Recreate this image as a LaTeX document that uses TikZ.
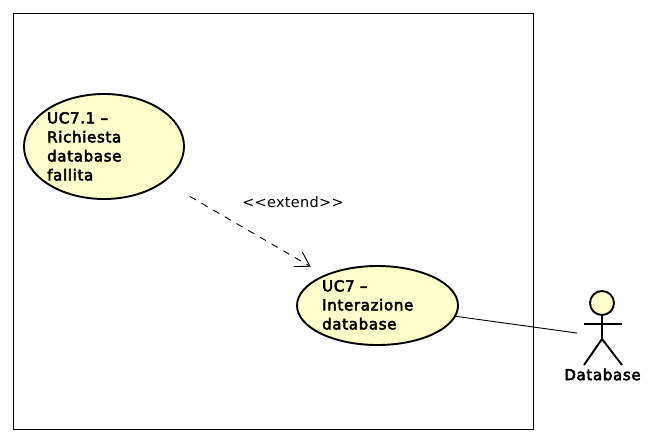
\documentclass[tikz,border=0pt]{standalone}
\usepackage{fontspec}
\setmainfont{DejaVu Sans}
\newfontfamily\spacedfont[LetterSpace=2]{DejaVu Sans}
\newfontfamily\heavyfont[FakeBold=3.5,LetterSpace=4.5]{DejaVu Sans}
\usetikzlibrary{shapes.geometric,arrows.meta}
\tikzset{
  x=1pt,y=-1pt,
  usecase/.style={draw=black,fill=ucfill,line width=1.9pt,ellipse,inner sep=0pt},
  uclabel/.style={anchor=north west,align=left,inner sep=0pt,font=\heavyfont\fontsize{15}{19}\selectfont},
  limb/.style={draw=black,line width=1.9pt},
  assoc/.style={draw=black,line width=0.9pt},
  ext/.style={draw=black,line width=0.9pt,dash pattern=on 7pt off 6.5pt,-{Straight Barb[length=14pt,width=17pt,line width=.9pt]}},
}
\definecolor{ucfill}{HTML}{FFFFCC}
\begin{document}
\begin{tikzpicture}
\useasboundingbox (0,0) rectangle (654,442);
\node[draw=black,line width=1pt,minimum width=520pt,minimum height=416pt,inner sep=0pt] (sys) at (273.5,221.5) {};
\node[usecase,minimum width=160pt,minimum height=105pt] (uc71) at (104,146.5) {};
\node[usecase,minimum width=161pt,minimum height=79pt] (uc7) at (377.5,305.5) {};
\node[uclabel] (t71) at (47,112) {UC7.1 –\\Richiesta\\database\\fallita};
\node[uclabel] (t7) at (322,280) {UC7 –\\Interazione\\database};
\node[font=\spacedfont\fontsize{14.5}{16}\selectfont,inner sep=0pt] (extl) at (293,202.5) {<{}<extend>{}>};
% actor
\node[circle,draw=black,fill=ucfill,line width=1.9pt,minimum size=24pt,inner sep=0pt] (head) at (602,303) {};
\coordinate (neck) at (602,339);
\coordinate (armL) at (584,324);
\coordinate (armR) at (622,324);
\coordinate (legL) at (584,365);
\coordinate (legR) at (622,365);
\coordinate (actor) at (602,336.5);
\draw[limb] (head) -- (neck);
\draw[limb] (armL) -- (armR);
\draw[limb] (legL) -- (neck) -- (legR);
\node[font=\heavyfont\fontsize{15}{16}\selectfont,inner sep=0pt] (dbl) at (602.5,374.5) {Database};
\draw[ext,shorten <=29pt,shorten >=16pt] (uc71) -- (uc7);
\draw[assoc,shorten >=25pt] (uc7) -- (actor);
\end{tikzpicture}
\end{document}
